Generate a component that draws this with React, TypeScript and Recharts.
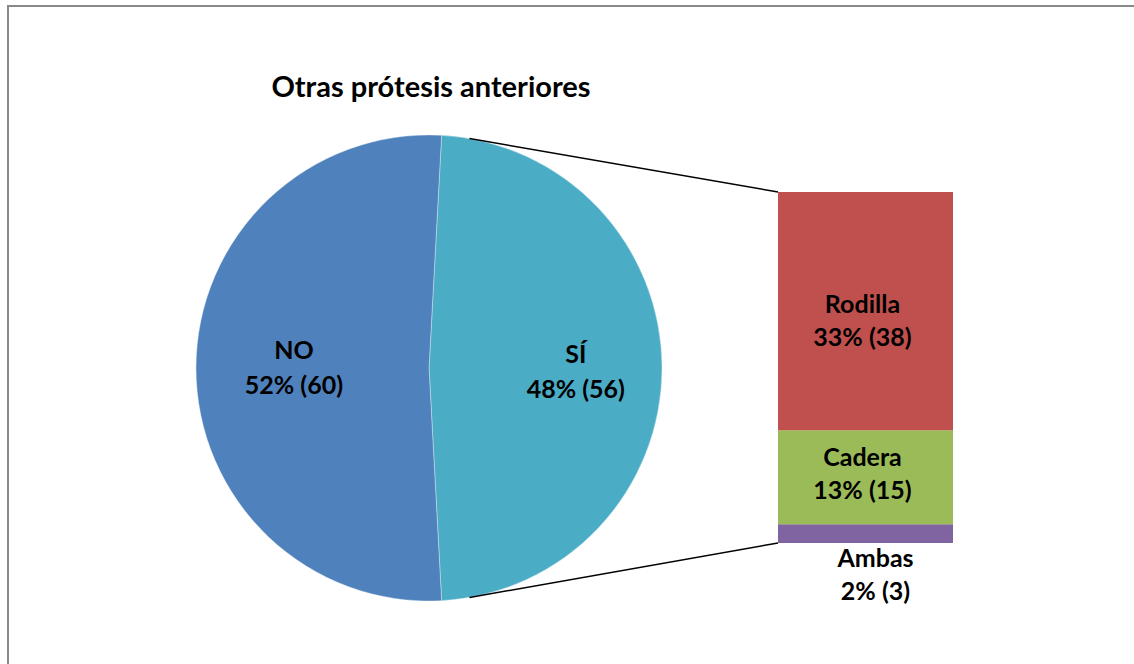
import React from 'react';
import { PieChart, Pie, Cell, BarChart, Bar, XAxis, YAxis, LabelList } from 'recharts';

// main pie: Sí / No
const pieNames = ['SÍ', 'NO'];
const pieValues = [56, 60];
const piePercents = ['48%', '52%'];
const pieColors = ['#4BACC6', '#4F81BD'];

// breakdown of "SÍ", stacked bottom to top
const barNames = ['Ambas', 'Cadera', 'Rodilla'];
const barValues = [3, 15, 38];
const barPercents = ['2%', '13%', '33%'];
const barColors = ['#8064A2', '#9BBB59', '#C0504D'];

const W = 1134;
const H = 664;
const FONT = 'Lato, "Open Sans", sans-serif';

const PIE_CX = 429;
const PIE_CY = 368;
const PIE_R = 233;

const BAR_LEFT = 778;
const BAR_RIGHT = 953;
const BAR_TOP = 192;
const BAR_BOTTOM = 543;

const RAD = Math.PI / 180;

const pieData = pieNames.map((name, i) => ({ name, value: pieValues[i], pct: piePercents[i] }));
const barRow: { [key: string]: string | number } = { name: 'SÍ' };
barNames.forEach((n, i) => {
  barRow[n] = barValues[i];
});
const barData = [barRow];
const barTotal = barValues.reduce((a, b) => a + b, 0);
const pieTotal = pieValues.reduce((a, b) => a + b, 0);
const startAngle = (180 * pieValues[0]) / pieTotal;

function PieLabel(props: any) {
  const { cx, cy, midAngle, outerRadius, index } = props;
  const r = outerRadius * (index === 0 ? 0.63 : 0.58);
  const x = cx + r * Math.cos(-midAngle * RAD);
  const y = cy + r * Math.sin(-midAngle * RAD) + (index === 0 ? 4 : 0);
  const d = pieData[index];
  return (
    <text x={x} y={y} textAnchor="middle" fontFamily={FONT} fontWeight="bold" fontSize={25} fill="#000">
      <tspan x={x} dy={-9}>{d.name}</tspan>
      <tspan x={x} dy={35}>{`${d.pct} (${d.value})`}</tspan>
    </text>
  );
}

// first-line baseline offset from the segment centre (or from the bar bottom for Ambas)
const labelShift = [24, -11, 2];

function makeBarLabel(i: number) {
  return (props: any) => {
    const vb = props.viewBox || props;
    const { x, y, width, height } = vb;
    const below = i === 0;
    const cx = x + width / 2 + (below ? 10 : -3);
    const base = below ? y + height + labelShift[i] : y + height / 2 + labelShift[i];
    return (
      <text x={cx} y={base} textAnchor="middle" fontFamily={FONT} fontWeight="bold" fontSize={25} fill="#000">
        <tspan x={cx}>{barNames[i]}</tspan>
        <tspan x={cx} dy={33}>{`${barPercents[i]} (${barValues[i]})`}</tspan>
      </text>
    );
  };
}

export default function App() {
  const a = 80 * RAD;
  const topStart = { x: PIE_CX + PIE_R * Math.cos(a), y: PIE_CY - PIE_R * Math.sin(a) };
  const botStart = { x: PIE_CX + PIE_R * Math.cos(a), y: PIE_CY + PIE_R * Math.sin(a) };

  return (
    <div style={{ position: 'absolute', left: 0, top: 0, width: W, height: H, overflow: 'hidden', background: '#fff' }}>
      <div
        style={{
          position: 'absolute',
          left: 7,
          top: 5,
          width: W + 20,
          height: H + 20,
          borderTop: '2px solid #898989',
          borderLeft: '2px solid #898989',
        }}
      />

      <div style={{ position: 'absolute', left: 0, top: 0 }}>
        <PieChart width={W} height={H} margin={{ top: 0, right: 0, bottom: 0, left: 0 }}>
          <Pie
            data={pieData}
            dataKey="value"
            nameKey="name"
            cx={PIE_CX}
            cy={PIE_CY}
            outerRadius={PIE_R}
            startAngle={startAngle}
            endAngle={startAngle - 360}
            stroke="#e8f2f8"
            strokeWidth={0.4}
            label={PieLabel}
            labelLine={false}
            isAnimationActive={false}
          >
            {pieData.map((d, i) => (
              <Cell key={d.name} fill={pieColors[i]} />
            ))}
          </Pie>
        </PieChart>
      </div>

      <div style={{ position: 'absolute', left: 0, top: 0 }}>
        <BarChart
          width={W}
          height={H}
          data={barData}
          barCategoryGap={0}
          margin={{ top: BAR_TOP, bottom: H - BAR_BOTTOM, left: BAR_LEFT, right: W - BAR_RIGHT }}
        >
          <XAxis dataKey="name" hide />
          <YAxis hide domain={[0, barTotal]} />
          {barNames.map((n, i) => (
            <Bar key={n} dataKey={n} stackId="s" fill={barColors[i]} isAnimationActive={false}>
              <LabelList dataKey={n} content={makeBarLabel(i)} />
            </Bar>
          ))}
        </BarChart>
      </div>

      <svg width={W} height={H} style={{ position: 'absolute', left: 0, top: 0, pointerEvents: 'none' }}>
        <text x={431} y={97} textAnchor="middle" fontFamily={FONT} fontWeight="bold" fontSize={29} fill="#000">
          Otras prótesis anteriores
        </text>
        <line x1={topStart.x} y1={topStart.y} x2={BAR_LEFT} y2={BAR_TOP} stroke="#000" strokeWidth={1.5} />
        <line x1={botStart.x} y1={botStart.y} x2={BAR_LEFT} y2={BAR_BOTTOM} stroke="#000" strokeWidth={1.5} />
      </svg>
    </div>
  );
}
